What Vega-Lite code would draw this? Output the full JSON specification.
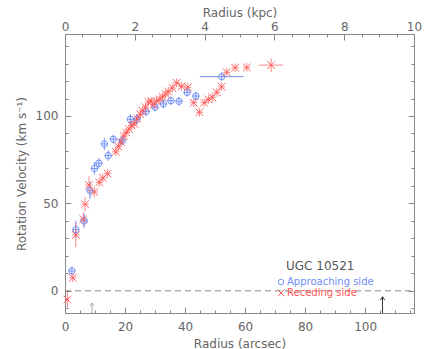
{
 "$schema": "https://vega.github.io/schema/vega-lite/v6.json",
 "width": 349,
 "height": 279,
 "autosize": "none",
 "padding": {"left": 65, "top": 34, "right": 22, "bottom": 36},
 "background": "white",
 "config": {
  "view": {"stroke": null},
  "font": "DejaVu Sans",
  "axis": {"grid": false, "domainColor": "#888", "tickColor": "#888", "labelColor": "#666", "titleColor": "#666", "labelFontSize": 12, "titleFontSize": 12, "titleFontWeight": "normal", "labelFlush": false, "labelOverlap": false, "labelBound": false, "tickWidth": 1, "domainWidth": 1}
 },
 "datasets": {
  "pts": [
   {"side": "Approaching side", "r": 2.3, "v": 11.4, "ex": 1.2, "ev": 2.5},
   {"side": "Approaching side", "r": 3.6, "v": 35, "ex": 1.2, "ev": 5},
   {"side": "Approaching side", "r": 6.4, "v": 40, "ex": 1.2, "ev": 4},
   {"side": "Approaching side", "r": 8.3, "v": 57.5, "ex": 1.2, "ev": 5},
   {"side": "Approaching side", "r": 9.8, "v": 70, "ex": 1.2, "ev": 3.5},
   {"side": "Approaching side", "r": 11.3, "v": 73, "ex": 1.2, "ev": 3},
   {"side": "Approaching side", "r": 13.1, "v": 84, "ex": 1.2, "ev": 3.5},
   {"side": "Approaching side", "r": 14.4, "v": 77.3, "ex": 1.2, "ev": 3},
   {"side": "Approaching side", "r": 16.1, "v": 86.7, "ex": 1.2, "ev": 2.5},
   {"side": "Approaching side", "r": 19.1, "v": 85.9, "ex": 1.2, "ev": 2.5},
   {"side": "Approaching side", "r": 21.8, "v": 98.1, "ex": 1.2, "ev": 3},
   {"side": "Approaching side", "r": 23.9, "v": 98.1, "ex": 1.2, "ev": 3},
   {"side": "Approaching side", "r": 27, "v": 102.5, "ex": 1.2, "ev": 2.5},
   {"side": "Approaching side", "r": 30, "v": 105.1, "ex": 1.2, "ev": 2.5},
   {"side": "Approaching side", "r": 32.8, "v": 106.9, "ex": 1.2, "ev": 2.5},
   {"side": "Approaching side", "r": 35.3, "v": 108.7, "ex": 1.2, "ev": 2.5},
   {"side": "Approaching side", "r": 38, "v": 108.4, "ex": 1.2, "ev": 2.5},
   {"side": "Approaching side", "r": 40.7, "v": 113.5, "ex": 1.2, "ev": 2.5},
   {"side": "Approaching side", "r": 43.6, "v": 111.4, "ex": 1.2, "ev": 2.5},
   {"side": "Approaching side", "r": 52.2, "v": 122.5, "ex": 7.3, "ev": 2.5},
   {"side": "Receding side", "r": 0.8, "v": -5, "ex": 0.6, "ev": 4.5},
   {"side": "Receding side", "r": 2.6, "v": 7.5, "ex": 1.2, "ev": 2.5},
   {"side": "Receding side", "r": 3.6, "v": 32, "ex": 1.2, "ev": 7},
   {"side": "Receding side", "r": 6.1, "v": 41, "ex": 1.2, "ev": 4},
   {"side": "Receding side", "r": 6.7, "v": 49.5, "ex": 1.2, "ev": 4},
   {"side": "Receding side", "r": 8.0, "v": 60.5, "ex": 1.2, "ev": 5},
   {"side": "Receding side", "r": 9.8, "v": 56.5, "ex": 1.2, "ev": 3},
   {"side": "Receding side", "r": 11.4, "v": 62, "ex": 1.2, "ev": 2.5},
   {"side": "Receding side", "r": 12.6, "v": 64.5, "ex": 1.2, "ev": 2.5},
   {"side": "Receding side", "r": 14.2, "v": 67, "ex": 1.2, "ev": 2.5},
   {"side": "Receding side", "r": 16.9, "v": 79.5, "ex": 1.2, "ev": 2.5},
   {"side": "Receding side", "r": 17.8, "v": 82.5, "ex": 1.2, "ev": 2.5},
   {"side": "Receding side", "r": 18.7, "v": 85, "ex": 1.2, "ev": 2.5},
   {"side": "Receding side", "r": 19.6, "v": 88.5, "ex": 1.2, "ev": 2.5},
   {"side": "Receding side", "r": 20.4, "v": 90.5, "ex": 1.2, "ev": 2.5},
   {"side": "Receding side", "r": 21.3, "v": 92.5, "ex": 1.2, "ev": 2.5},
   {"side": "Receding side", "r": 22.2, "v": 94.5, "ex": 1.2, "ev": 2.5},
   {"side": "Receding side", "r": 23.1, "v": 95.5, "ex": 1.2, "ev": 2.5},
   {"side": "Receding side", "r": 24.1, "v": 98.5, "ex": 1.2, "ev": 2.5},
   {"side": "Receding side", "r": 25.1, "v": 101, "ex": 1.2, "ev": 2.5},
   {"side": "Receding side", "r": 25.8, "v": 103, "ex": 1.2, "ev": 2.5},
   {"side": "Receding side", "r": 26.8, "v": 105, "ex": 1.2, "ev": 2.5},
   {"side": "Receding side", "r": 27.8, "v": 108, "ex": 1.2, "ev": 2.5},
   {"side": "Receding side", "r": 28.7, "v": 108.5, "ex": 1.2, "ev": 2.5},
   {"side": "Receding side", "r": 29.6, "v": 106.5, "ex": 1.2, "ev": 2.5},
   {"side": "Receding side", "r": 30.5, "v": 108.5, "ex": 1.2, "ev": 2.5},
   {"side": "Receding side", "r": 31.6, "v": 109.5, "ex": 1.2, "ev": 2.5},
   {"side": "Receding side", "r": 32.5, "v": 111, "ex": 1.2, "ev": 2.5},
   {"side": "Receding side", "r": 33.6, "v": 112.5, "ex": 1.2, "ev": 2.5},
   {"side": "Receding side", "r": 34.4, "v": 114, "ex": 1.2, "ev": 2.5},
   {"side": "Receding side", "r": 35.8, "v": 116, "ex": 1.2, "ev": 2.5},
   {"side": "Receding side", "r": 37.2, "v": 119, "ex": 1.2, "ev": 2.5},
   {"side": "Receding side", "r": 38.9, "v": 117, "ex": 1.2, "ev": 2.5},
   {"side": "Receding side", "r": 40.9, "v": 116.4, "ex": 1.2, "ev": 2.5},
   {"side": "Receding side", "r": 42.9, "v": 107.6, "ex": 1.2, "ev": 2.5},
   {"side": "Receding side", "r": 44.8, "v": 102.1, "ex": 1.2, "ev": 2.5},
   {"side": "Receding side", "r": 46.4, "v": 107.6, "ex": 1.2, "ev": 2.5},
   {"side": "Receding side", "r": 47.8, "v": 109.5, "ex": 1.2, "ev": 2.5},
   {"side": "Receding side", "r": 49.1, "v": 110.7, "ex": 1.2, "ev": 2.5},
   {"side": "Receding side", "r": 50.6, "v": 113.5, "ex": 1.2, "ev": 2.5},
   {"side": "Receding side", "r": 52.2, "v": 116.7, "ex": 1.2, "ev": 2.5},
   {"side": "Receding side", "r": 53.9, "v": 125, "ex": 1.2, "ev": 2.5},
   {"side": "Receding side", "r": 56.7, "v": 127.6, "ex": 1.2, "ev": 2.5},
   {"side": "Receding side", "r": 60.6, "v": 127.8, "ex": 1.2, "ev": 2.5},
   {"side": "Receding side", "r": 68.7, "v": 129.1, "ex": 4, "ev": 4}
  ],
  "arrows": [
   {"kind": "small", "r": 9, "v": -7, "v2": -12.7},
   {"kind": "big", "r": 105.8, "v": -3.4, "v2": -12.7}
  ],
  "zero": [
   {"kpc": 0, "v": 0},
   {"kpc": 10, "v": 0}
  ]
 },
 "layer": [
  {
   "encoding": {
    "x": {"field": "r", "type": "quantitative", "scale": {"domain": [0, 116.3], "nice": false, "zero": false},
     "axis": {"orient": "bottom", "title": "Radius (arcsec)", "values": [0,5,10,15,20,25,30,35,40,45,50,55,60,65,70,75,80,85,90,95,100,105,110,115],
      "labelExpr": "datum.value % 20 === 0 ? datum.label : ''",
      "tickSize": {"condition": {"test": "datum.value % 20 === 0", "value": -6}, "value": -3},
      "labelPadding": 14, "titlePadding": 3}},
    "y": {"field": "v", "type": "quantitative", "scale": {"domain": [-12.7, 146.9], "nice": false, "zero": false},
     "axis": {"orient": "left", "title": "Rotation Velocity (km s⁻¹)", "values": [-10,0,10,20,30,40,50,60,70,80,90,100,110,120,130,140],
      "labelExpr": "datum.value % 50 === 0 ? datum.label : ''",
      "tickSize": {"condition": {"test": "datum.value % 50 === 0", "value": -6}, "value": -3},
      "labelPadding": 13, "titlePadding": 7}}
   },
   "layer": [
    {"data": {"name": "pts"}, "transform": [{"filter": "datum.side === 'Approaching side'"}],
     "mark": {"type": "errorbar", "color": "#6f8ef7", "thickness": 1}, "encoding": {"xError": {"field": "ex"}}},
    {"data": {"name": "pts"}, "transform": [{"filter": "datum.side === 'Approaching side'"}],
     "mark": {"type": "errorbar", "color": "#6f8ef7", "thickness": 1}, "encoding": {"yError": {"field": "ev"}}},
    {"data": {"name": "pts"}, "transform": [{"filter": "datum.side === 'Receding side'"}],
     "mark": {"type": "errorbar", "color": "#ff6666", "thickness": 1, "opacity": 0.8}, "encoding": {"xError": {"field": "ex"}}},
    {"data": {"name": "pts"}, "transform": [{"filter": "datum.side === 'Receding side'"}],
     "mark": {"type": "errorbar", "color": "#ff6666", "thickness": 1, "opacity": 0.8}, "encoding": {"yError": {"field": "ev"}}},
    {"data": {"name": "pts"},
     "mark": {"type": "point", "filled": false, "strokeWidth": 1, "size": 40, "opacity": 0.95},
     "encoding": {
      "color": {"field": "side", "type": "nominal", "scale": {"domain": ["Approaching side", "Receding side"], "range": ["#6f8ef7", "#ff5555"]},
       "legend": {"orient": "none", "legendX": 221, "legendY": 227, "title": "UGC 10521", "titleFontSize": 12, "titleFontWeight": "normal", "titleColor": "#555", "titleFont": "DejaVu Sans", "labelFontSize": 10, "labelFont": "DejaVu Sans", "padding": 0, "titlePadding": 4, "rowPadding": 0, "symbolSize": 30, "symbolStrokeWidth": 1, "symbolOffset": -10, "labelOffset": 1,
        "labelColor": {"expr": "datum.value === 'Approaching side' ? '#6f8ef7' : '#ff5555'"}}},
      "shape": {"field": "side", "type": "nominal", "scale": {"domain": ["Approaching side", "Receding side"], "range": ["circle", "M-1.2,-1.2L1.2,1.2M-1.2,1.2L1.2,-1.2"]},
       "legend": {"orient": "none", "legendX": 221, "legendY": 227, "title": "UGC 10521", "titleFontSize": 12, "titleFontWeight": "normal", "titleColor": "#555", "titleFont": "DejaVu Sans", "labelFontSize": 10, "labelFont": "DejaVu Sans", "padding": 0, "titlePadding": 4, "rowPadding": 0, "symbolSize": 30, "symbolStrokeWidth": 1, "symbolOffset": -10, "labelOffset": 1,
        "labelColor": {"expr": "datum.value === 'Approaching side' ? '#6f8ef7' : '#ff5555'"}}}
     }},
    {"data": {"name": "arrows"}, "transform": [{"filter": "datum.kind === 'small'"}],
     "mark": {"type": "rule", "color": "#aaaaaa", "strokeWidth": 1}, "encoding": {"y2": {"field": "v2"}}},
    {"data": {"name": "arrows"}, "transform": [{"filter": "datum.kind === 'small'"}],
     "mark": {"type": "point", "shape": "M-1,1.5L0,0L1,1.5", "size": 12, "filled": false, "color": "#aaaaaa", "strokeWidth": 1, "opacity": 1}},
    {"data": {"name": "arrows"}, "transform": [{"filter": "datum.kind === 'big'"}],
     "mark": {"type": "rule", "color": "#333333", "strokeWidth": 1}, "encoding": {"y2": {"field": "v2"}}},
    {"data": {"name": "arrows"}, "transform": [{"filter": "datum.kind === 'big'"}],
     "mark": {"type": "point", "shape": "M-1,1.5L0,0L1,1.5", "size": 20, "filled": false, "color": "#333333", "strokeWidth": 1, "opacity": 1}}
   ]
  },
  {
   "data": {"name": "zero"},
   "mark": {"type": "line", "color": "#888888", "strokeWidth": 1, "strokeDash": [6, 4]},
   "encoding": {
    "x": {"field": "kpc", "type": "quantitative", "scale": {"domain": [0, 10], "nice": false, "zero": false},
     "axis": {"orient": "top", "title": "Radius (kpc)", "values": [0,0.5,1,1.5,2,2.5,3,3.5,4,4.5,5,5.5,6,6.5,7,7.5,8,8.5,9,9.5,10],
      "labelExpr": "datum.value % 2 === 0 ? format(datum.value, 'd') : ''",
      "tickSize": {"condition": {"test": "datum.value % 2 === 0", "value": -6}, "value": -3},
      "labelPadding": 7, "titlePadding": -2}},
    "y": {"field": "v", "type": "quantitative", "scale": {"domain": [-12.7, 146.9], "nice": false, "zero": false},
     "axis": {"orient": "right", "title": null, "labels": false, "values": [-10,0,10,20,30,40,50,60,70,80,90,100,110,120,130,140],
      "tickSize": {"condition": {"test": "datum.value % 50 === 0", "value": -6}, "value": -3}}}
   }
  }
 ],
 "resolve": {"scale": {"x": "independent", "y": "independent"}}
}
